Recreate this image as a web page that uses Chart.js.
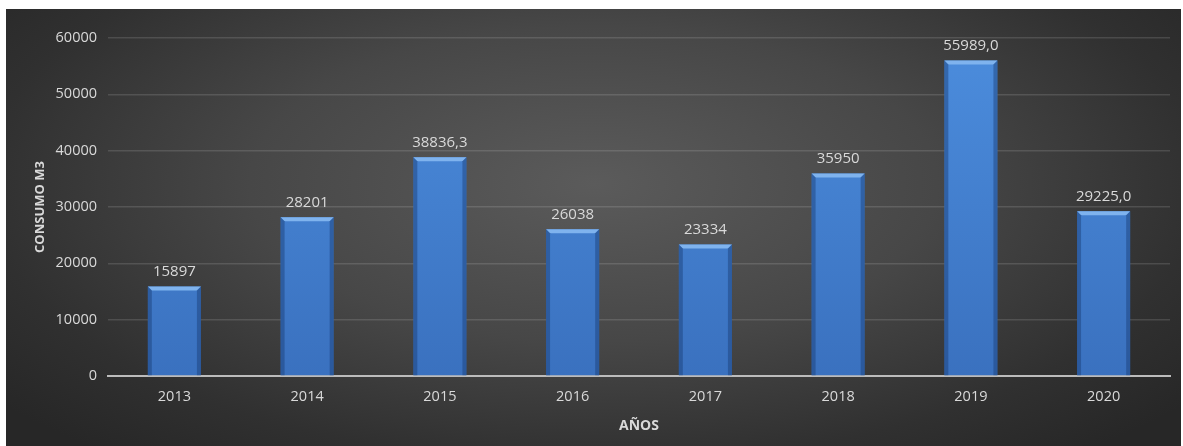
<!DOCTYPE html>
<html>
<head>
<meta charset="utf-8">
<script src="https://cdn.jsdelivr.net/npm/chart.js@4"></script>
<style>
  html, body { margin: 0; padding: 0; background: #ffffff; }
  #wrap {
    position: absolute; left: 6px; top: 9px; width: 1175px; height: 437px;
    background: radial-gradient(ellipse 65% 80% at 50% 40%, #5b5b5b 0%, #474747 45%, #303030 80%, #272727 100%);
  }
</style>
</head>
<body>
<div id="wrap"><canvas id="graf" width="1175" height="437"></canvas></div>
<script>
// Datos del consumo anual
const anios = ['2013', '2014', '2015', '2016', '2017', '2018', '2019', '2020'];
const consumo = [15897, 28201, 38836.3, 26038, 23334, 35950, 55989.0, 29225.0];
const etiquetas = ['15897', '28201', '38836,3', '26038', '23334', '35950', '55989,0', '29225,0'];

const fuente = "'Open Sans', sans-serif";
const anchoBarra = 0.4;

// Etiquetas encima de cada barra + biselado
const pluginBarras = {
    id: 'pluginBarras',
    afterDatasetsDraw(chart) {
        const ctx = chart.ctx;
        const meta = chart.getDatasetMeta(0);
        ctx.save();
        meta.data.forEach((bar, i) => {
            const l = bar.x - bar.width / 2, r = bar.x + bar.width / 2;
            const t = bar.y, b = bar.base;
            // bisel superior
            ctx.fillStyle = '#7fb3ee';
            ctx.beginPath();
            ctx.moveTo(l, t); ctx.lineTo(r, t); ctx.lineTo(r - 4, t + 4); ctx.lineTo(l + 4, t + 4);
            ctx.closePath(); ctx.fill();
            // bordes laterales oscuros
            ctx.fillStyle = 'rgba(25, 60, 115, 0.45)';
            ctx.beginPath();
            ctx.moveTo(l, t); ctx.lineTo(l + 4, t + 4); ctx.lineTo(l + 4, b); ctx.lineTo(l, b);
            ctx.closePath(); ctx.fill();
            ctx.beginPath();
            ctx.moveTo(r, t); ctx.lineTo(r - 4, t + 4); ctx.lineTo(r - 4, b); ctx.lineTo(r, b);
            ctx.closePath(); ctx.fill();
            // texto
            ctx.fillStyle = '#d9d9d9';
            ctx.font = '15px ' + fuente;
            ctx.textAlign = 'center';
            ctx.textBaseline = 'bottom';
            ctx.fillText(etiquetas[i], bar.x, t - 7);
        });
        ctx.restore();
    }
};

new Chart(document.getElementById('graf'), {
    type: 'bar',
    data: {
        labels: anios,
        datasets: [{
            data: consumo,
            backgroundColor: function(c) {
                const area = c.chart.chartArea;
                if (!area) return '#4786d6';
                const g = c.chart.ctx.createLinearGradient(0, area.top, 0, area.bottom);
                g.addColorStop(0, '#4c8ddd');
                g.addColorStop(1, '#3a71bf');
                return g;
            },
            borderWidth: 0,
            categoryPercentage: 1,
            barPercentage: anchoBarra
        }]
    },
    options: {
        responsive: false,
        animation: false,
        layout: { padding: { left: 22, right: 11, top: 29, bottom: 8 } },
        plugins: {
            legend: { display: false },
            tooltip: { enabled: false }
        },
        scales: {
            x: {
                grid: { display: false, drawTicks: false },
                border: { color: '#bcbcbc', width: 2 },
                ticks: { color: '#d9d9d9', font: { family: fuente, size: 14.5 }, padding: 12 },
                title: {
                    display: true, text: 'AÑOS', color: '#d9d9d9',
                    font: { family: fuente, size: 14, weight: 'bold' }, padding: { top: 3 }
                },
                afterFit(s) { s.height = 62; }
            },
            y: {
                min: 0, max: 60000,
                ticks: {
                    stepSize: 10000, color: '#d9d9d9', font: { family: fuente, size: 14.5 }, padding: 11,
                    callback: v => String(v)
                },
                grid: { color: 'rgba(255,255,255,0.13)', lineWidth: 1.5, drawTicks: false },
                border: { display: false },
                title: {
                    display: true, text: 'CONSUMO M3', color: '#d9d9d9',
                    font: { family: fuente, size: 13, weight: 'bold' }, padding: { bottom: 6 }
                },
                afterFit(s) { s.width = 80; }
            }
        }
    },
    plugins: [pluginBarras]
});
</script>
</body>
</html>
